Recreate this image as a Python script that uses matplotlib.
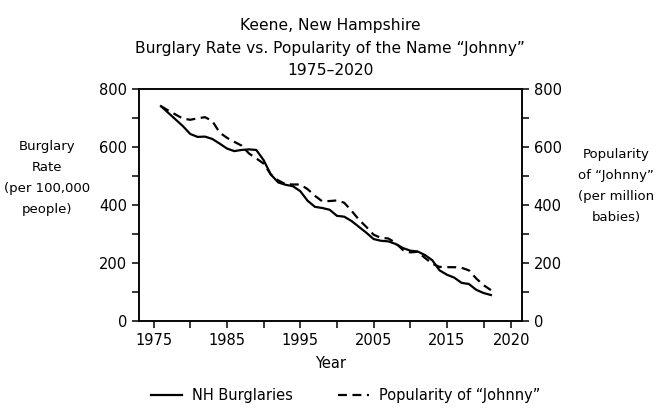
import matplotlib
matplotlib.use("Agg")
import matplotlib.pyplot as plt
from matplotlib.ticker import MultipleLocator

years = list(range(1976, 2022))

burglary_rate = [741, 718, 695, 672, 645, 635, 636, 628, 612, 595,
                 586, 590, 592, 590, 555, 505, 478, 470, 465, 448,
                 415, 394, 390, 384, 363, 360, 345, 325, 305, 283,
                 277, 275, 266, 252, 243, 240, 228, 210, 175, 160,
                 150, 132, 128, 108, 97, 90]

johnny_popularity = [741, 726, 712, 698, 694, 699, 703, 690, 650, 632,
                     618, 605, 578, 561, 543, 505, 485, 472, 471, 471,
                     455, 432, 413, 414, 416, 408, 380, 350, 325, 298,
                     287, 285, 270, 245, 237, 239, 218, 198, 187, 186,
                     186, 184, 175, 147, 124, 107]

xtick_pos = [1975, 1985, 1995, 2005, 2015, 2023.8]
xtick_labels = ["1975", "1985", "1995", "2005", "2015", "2020"]
ytick_pos = [0, 200, 400, 600, 800]

plt.rcParams['font.family'] = ['DejaVu Sans']

fig = plt.figure(figsize=(6.68, 4.16), dpi=100)
ax = fig.add_axes([0.208, 0.228, 0.573, 0.558])

ax.plot(years, burglary_rate, color='black', lw=1.6, label='NH Burglaries')
ax.plot(years, johnny_popularity, color='black', lw=1.6, dashes=(4, 2.5),
        label='Popularity of \u201cJohnny\u201d')

ax.set_xlim(1973, 2025.2)
ax.set_ylim(0, 800)
ax.set_xticks(xtick_pos)
ax.set_xticklabels(xtick_labels)
ax.set_xticks([1980, 1990, 2000, 2010, 2020], minor=True)
ax.set_yticks(ytick_pos)
ax.yaxis.set_minor_locator(MultipleLocator(100))
ax.tick_params(axis='both', which='both', direction='out', length=5,
               width=1.1, labelsize=10.5)

ax2 = ax.twinx()
ax2.set_ylim(0, 800)
ax2.set_yticks(ytick_pos)
ax2.yaxis.set_minor_locator(MultipleLocator(100))
ax2.tick_params(axis='y', which='both', direction='out', length=5,
                width=1.1, labelsize=10.5)

for a in (ax, ax2):
    for s in a.spines.values():
        s.set_linewidth(1.1)

ax.set_title("Keene, New Hampshire\nBurglary Rate vs. Popularity of the Name \u201cJohnny\u201d\n1975\u20132020",
             fontsize=11.2, linespacing=1.62, pad=10)
ax.set_xlabel("Year", fontsize=10.5, labelpad=6)

fig.text(0.070, 0.573, "Burglary\nRate\n(per 100,000\npeople)", ha='center', va='center',
         fontsize=9.5, linespacing=1.8)
fig.text(0.922, 0.554, "Popularity\nof \u201cJohnny\u201d\n(per million\nbabies)", ha='center', va='center',
         fontsize=9.5, linespacing=1.8)

fig.legend(loc='center', bbox_to_anchor=(0.518, 0.05), ncol=2, frameon=False,
           fontsize=10.5, handlelength=2.1, handletextpad=0.7, columnspacing=3.1)

fig.savefig("out.png", dpi=100, facecolor='white')
